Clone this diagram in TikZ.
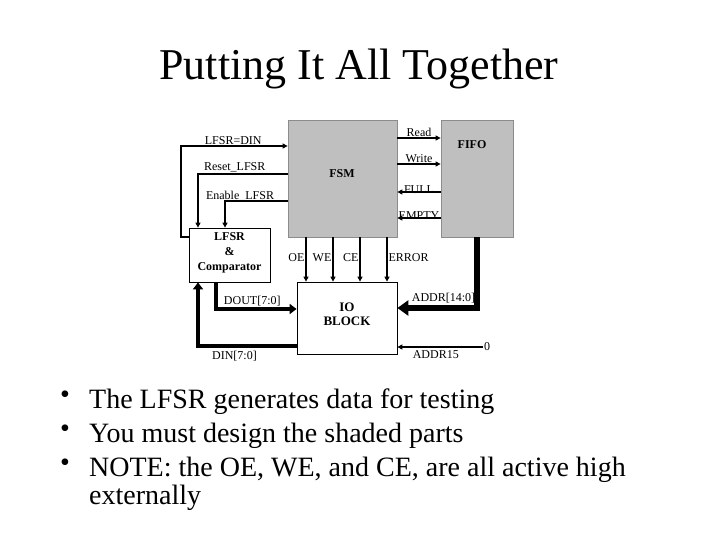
\documentclass[tikz,border=0pt]{standalone}
\usepackage{fontspec}
\setmainfont{Liberation Serif}
\usetikzlibrary{arrows.meta}

\begin{document}
\begin{tikzpicture}[x=1pt,y=-1pt,line join=miter,
  gbox/.style={draw=black!45,fill=black!25,line width=0.8pt,inner sep=0pt},
  wbox/.style={draw,fill=white,line width=0.8pt,inner sep=0pt},
  bold/.style={font=\fontsize{12}{15}\selectfont\bfseries,align=center,inner sep=0pt},
  sig/.style={line width=1.2pt,-{Triangle[length=5pt,width=5pt]}},
  bus/.style={line width=4pt,-{Triangle[length=7pt,width=10pt]}},
  wbus/.style={line width=6pt,-{Triangle[length=11pt,width=15pt]}},
  lbl/.style={font=\fontsize{12}{14}\selectfont,inner sep=1pt},
  txt/.style={font=\fontsize{28}{34}\selectfont,anchor=base west,inner sep=0pt},
  dot/.style={font=\fontsize{28}{28}\selectfont,anchor=base west,inner sep=0pt}]
\useasboundingbox (0,0) rectangle (720,540);
\node[font=\fontsize{44}{50}\selectfont,anchor=base,inner sep=0pt] (title) at (359,80) {Putting It All Together};
% blocks
\node[gbox,minimum width=109pt,minimum height=117pt] (fsm) at (342.5,178.5) {};
\node[gbox,minimum width=72pt,minimum height=117pt] (fifo) at (477,178.5) {};
\node[wbox,minimum width=81pt,minimum height=54pt] (lfsr) at (229.5,255) {};
\node[wbox,minimum width=100pt,minimum height=72pt] (io) at (347,318) {};
\node[bold] (fsmtxt) at (342,174) {FSM};
\node[bold] (fifotxt) at (472,145) {FIFO};
\node[bold] (lfsrtxt) at (229.5,253) {LFSR\\\&\\Comparator};
\node[bold,font=\fontsize{13}{14}\selectfont\bfseries] (iotxt) at (347,314) {IO\\BLOCK};
% fsm <-> fifo
\coordinate (rd) at (fsm.east |- 0,138);
\coordinate (wr) at (fsm.east |- 0,164);
\coordinate (fl) at (fsm.east |- 0,192);
\coordinate (em) at (fsm.east |- 0,218);
\draw[sig] (rd) -- (rd -| fifo.west) node[lbl,midway,above] (lread) {Read};
\draw[sig] (wr) -- (wr -| fifo.west) node[lbl,midway,above] (lwrite) {Write};
\draw[sig] (fl -| fifo.west) -- (fl) node[lbl,midway,above,yshift=-3pt] (lfull) {FULL};
\draw[sig] (em -| fifo.west) -- (em) node[lbl,midway,above,yshift=-3pt] (lempty) {EMPTY};
% fsm <-> lfsr
\coordinate (ld1) at (181,237);
\coordinate (ld2) at (181,146);
\draw[sig] (lfsr.west |- ld1) -- (ld1) -- (ld2) -- (ld2 -| fsm.west)
  node[lbl,pos=0.49,above] (ldin) {LFSR=DIN};
\coordinate (rs) at (198,174);
\draw[sig] (rs -| fsm.west) -- (rs) node[lbl,pos=0.59,above] (lrst) {Reset\_LFSR} -- (rs |- lfsr.north);
\coordinate (en) at (225,201);
\draw[sig] (en -| fsm.west) -- (en) node[lbl,pos=0.76,above,yshift=-2pt] (lena) {Enable\_LFSR} -- (en |- lfsr.north);
% fsm -> io
\foreach \x/\t in {306/OE,333/WE,360/CE}{
  \draw[sig] (fsm.south -| \x,0) -- (io.north -| \x,0) node[lbl,pos=0.45,left] (l\t) {\t};
}
\draw[sig] (fsm.south -| 387,0) -- (io.north -| 387,0) node[lbl,pos=0.45,right] (lerr) {ERROR};
% data and address
\coordinate (dt) at (216,309);
\draw[bus] (lfsr.south -| dt) -- (dt) -- (dt -| io.west) node[lbl,midway,above,xshift=-4pt] (ldout) {DOUT[7:0]};
\coordinate (dn) at (198,346);
\draw[bus] (io.west |- dn) -- (dn) node[lbl,pos=0.63,below,yshift=-2pt] (ldinb) {DIN[7:0]} -- (dn |- lfsr.south);
\coordinate (ad) at (fifo.south |- 0,308);
\draw[wbus] (fifo.south) -- (ad) -- (ad -| io.east) node[lbl,pos=0.42,above,yshift=1pt] (laddr) {ADDR[14:0]};
\node[lbl] (zero) at (487,347) {0};
\draw[sig] (zero.west) -- (zero.west -| io.east) node[lbl,pos=0.55,below,yshift=-2pt] (la15) {ADDR15};
% bullets
\node[dot] (d1) at (60,403) {\textbullet};
\node[dot] (d2) at (60,437) {\textbullet};
\node[dot] (d3) at (60,471) {\textbullet};
\node[txt] (t1) at (89,408) {The LFSR generates data for testing};
\node[txt] (t2) at (89,442) {You must design the shaded parts};
\node[txt] (t3) at (89,476) {NOTE: the OE, WE, and CE, are all active high};
\node[txt] (t4) at (89,504) {externally};
\end{tikzpicture}
\end{document}
